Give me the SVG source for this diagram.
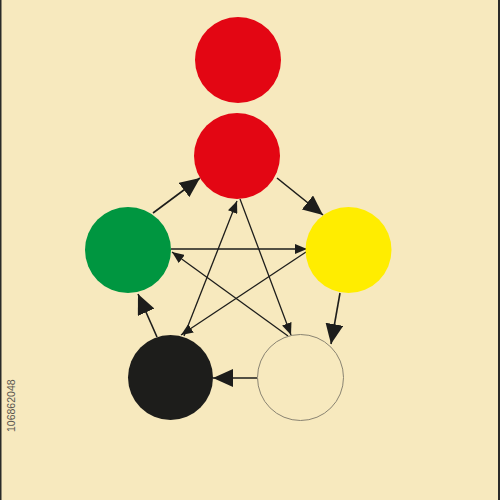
<svg xmlns="http://www.w3.org/2000/svg" width="500" height="500" viewBox="0 0 500 500">
<style>
.bg{fill:#F7E9BE}
.c{stroke:none}
.ln{stroke:#1d1d1b;fill:none}
.outer{stroke-width:1.6}
.star{stroke-width:1.3}
.lbl{font-family:"Liberation Sans",Arial,sans-serif;font-size:10.5px;fill:#5a5650}
</style>
<defs>
<marker id="big" markerUnits="userSpaceOnUse" viewBox="0 0 20 18" refX="20" refY="9" markerWidth="20" markerHeight="18" orient="auto">
<path d="M0,0 L20,9 L0,18 z" fill="#1d1d1b"/>
</marker>
<marker id="small" markerUnits="userSpaceOnUse" viewBox="0 0 12 10" refX="12" refY="5" markerWidth="12" markerHeight="10" orient="auto">
<path d="M0,0 L12,5 L0,10 z" fill="#1d1d1b"/>
</marker>
</defs>
<rect class="bg" x="0" y="0" width="500" height="500"/>
<line x1="0.75" y1="0" x2="0.75" y2="500" stroke="#2a2a28" stroke-width="1.5"/>
<line x1="499" y1="0" x2="499" y2="500" stroke="#2a2a28" stroke-width="2"/>
<g id="connectors">
<line class="ln outer" x1="153" y1="213" x2="200" y2="178" marker-end="url(#big)"/>
<line class="ln outer" x1="277" y1="178" x2="323" y2="215" marker-end="url(#big)"/>
<line class="ln outer" x1="340" y1="293" x2="331" y2="344" marker-end="url(#big)"/>
<line class="ln outer" x1="257" y1="378" x2="213" y2="378" marker-end="url(#big)"/>
<line class="ln outer" x1="157" y1="337" x2="138" y2="294" marker-end="url(#big)"/>
<line class="ln star" x1="240" y1="199" x2="291" y2="335" marker-end="url(#small)"/>
<line class="ln star" x1="288" y1="336" x2="172" y2="252" marker-end="url(#small)"/>
<line class="ln star" x1="171" y1="249" x2="307" y2="249" stroke-width="2" marker-end="url(#small)"/>
<line class="ln star" x1="306" y1="252" x2="181" y2="335" marker-end="url(#small)"/>
<line class="ln star" x1="184" y1="336" x2="237" y2="201" marker-end="url(#small)"/>
</g>
<g id="red-top"><circle class="c" cx="238" cy="60" r="43" fill="#E30613"/></g>
<g id="red"><circle class="c" cx="237" cy="156" r="43" fill="#E30613"/></g>
<g id="green"><circle class="c" cx="128" cy="250" r="43" fill="#009640"/></g>
<g id="yellow"><circle class="c" cx="348.5" cy="250" r="43" fill="#FFED00"/></g>
<g id="black"><circle class="c" cx="170.5" cy="377.5" r="42.5" fill="#1d1d1b"/></g>
<g id="white"><circle cx="300.5" cy="377.5" r="43" fill="none" stroke="#8a8472" stroke-width="1"/></g>
<text class="lbl" transform="translate(15,432) rotate(-90)">106862048</text>
</svg>
